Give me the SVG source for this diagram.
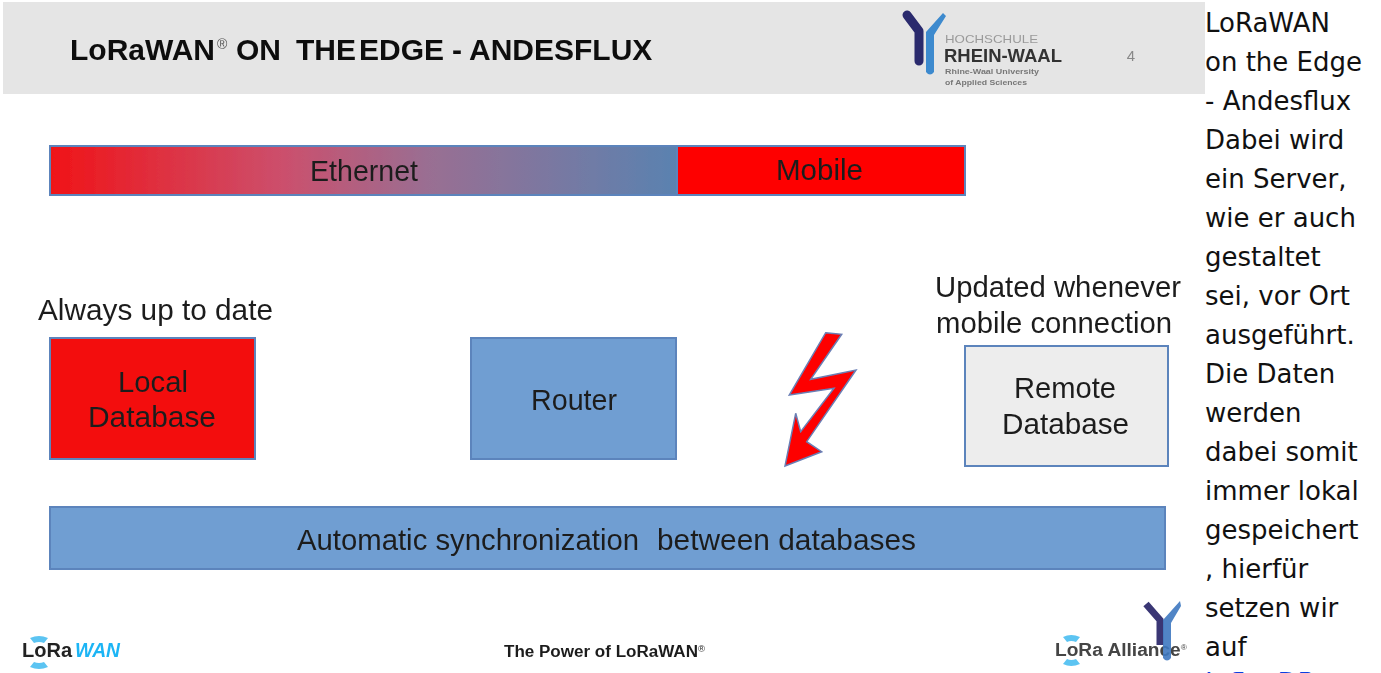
<svg xmlns="http://www.w3.org/2000/svg" width="1381" height="673" viewBox="0 0 1381 673">
<defs>
<linearGradient id="g" x1="0" x2="1" y1="0" y2="0"><stop offset="0" stop-color="#f01418"/><stop offset="0.37" stop-color="#cc4f6c"/><stop offset="0.6" stop-color="#9a6e92"/><stop offset="1" stop-color="#5a82b0"/></linearGradient>
<filter id="b" x="-5%" y="-5%" width="110%" height="110%"><feGaussianBlur stdDeviation="0.75"/></filter>
</defs>
<style>
.s{font-family:"Liberation Sans",Arial,sans-serif;fill:#1f1f1f}
.f{font-size:30px;letter-spacing:0}
.h{font-size:30px;font-weight:700;fill:#111}
.r{font-family:"DejaVu Sans",sans-serif;font-size:26px;fill:#111}
.box{stroke:#5b84bc;stroke-width:2}
.arc{fill:#5cc4f2}
</style>
<rect width="1381" height="673" fill="#fff"/>
<g filter="url(#b)">
<rect id="header" x="3" y="2" width="1202" height="92" fill="#e5e5e5"/>
<text class="s h" y="60"><tspan x="70">LoRaWAN</tspan><tspan x="217" y="49" font-size="14" font-weight="400" fill="#555">®</tspan><tspan x="236" y="60">ON</tspan><tspan x="296">THE</tspan><tspan x="359">EDGE</tspan><tspan x="452">-</tspan><tspan x="469">ANDESFLUX</tspan></text>
<g id="hsrw-logo">
<path d="M907 15 L919 31 L919 61" fill="none" stroke="#2b2a6d" stroke-width="9" stroke-linecap="round" stroke-linejoin="round"/>
<path d="M943 13 L946 16 L934 35 L934 72 Q930 77 926 72 L926 32 Z" fill="#3d8ace"/>
<text class="s" x="945" y="43" font-size="11" fill="#999" textLength="93" lengthAdjust="spacingAndGlyphs" style="fill:#9a9a9a">HOCHSCHULE</text>
<text class="s" x="944" y="62" font-size="18" font-weight="700" textLength="118" lengthAdjust="spacingAndGlyphs" style="fill:#333">RHEIN-WAAL</text>
<text class="s" x="945" y="74" font-size="7.5" font-weight="700" textLength="94" lengthAdjust="spacingAndGlyphs" style="fill:#777">Rhine-Waal University</text>
<text class="s" x="945" y="85" font-size="7.5" font-weight="700" textLength="82" lengthAdjust="spacingAndGlyphs" style="fill:#777">of Applied Sciences</text>
</g>
<text class="s" x="1131" y="61" font-size="15" text-anchor="middle" style="fill:#888">4</text>
<g id="ethernet"><rect class="box" x="50" y="146" width="627" height="49" fill="url(#g)"/><text class="s f" x="310" y="181" textLength="108" lengthAdjust="spacingAndGlyphs">Ethernet</text></g>
<g id="mobile"><rect class="box" x="677" y="146" width="288" height="49" fill="#fe0000"/><text class="s f" x="776" y="180" textLength="87" lengthAdjust="spacingAndGlyphs">Mobile</text></g>
<text class="s f" x="38" y="320" textLength="235" lengthAdjust="spacingAndGlyphs">Always up to date</text>
<text class="s f" x="935" y="297" textLength="246" lengthAdjust="spacingAndGlyphs">Updated whenever</text>
<text class="s f" x="936" y="333" textLength="236" lengthAdjust="spacingAndGlyphs">mobile connection</text>
<g id="local-db"><rect class="box" x="50" y="338" width="205" height="121" fill="#f3100e"/><text class="s f" x="118" y="392" textLength="70" lengthAdjust="spacingAndGlyphs">Local</text><text class="s f" x="88" y="427" textLength="128" lengthAdjust="spacingAndGlyphs">Database</text></g>
<g id="router"><rect class="box" x="471" y="338" width="205" height="121" fill="#709ed2"/><text class="s f" x="531" y="410" textLength="86" lengthAdjust="spacingAndGlyphs">Router</text></g>
<g id="remote-db"><rect class="box" x="965" y="346" width="203" height="120" fill="#ededed"/><text class="s f" x="1014" y="398" textLength="102" lengthAdjust="spacingAndGlyphs">Remote</text><text class="s f" x="1002" y="434" textLength="127" lengthAdjust="spacingAndGlyphs">Database</text></g>
<path id="bolt" d="M825.7 332.7 L841.7 334.3 L810.7 379.3 L856 370 L806.7 441.7 L821.7 451.7 L785 466 L795.7 413.3 L800.7 431.7 L834 388.3 L789.3 395 Z" fill="#fe0000" stroke="#6a7fb5" stroke-width="1.5"/>
<g id="sync"><rect class="box" x="50" y="507" width="1115" height="62" fill="#709ed2"/><text class="s f" x="297" y="550" textLength="342" lengthAdjust="spacingAndGlyphs">Automatic synchronization</text><text class="s f" x="657" y="550" textLength="259" lengthAdjust="spacingAndGlyphs">between databases</text></g>
<g id="lorawan-logo">
<path class="arc" d="M30 638 Q39 634 48 638 L44 643 Q39 641 34 643 Z M30 667 Q39 671 48 667 L44 662 Q39 664 34 662 Z"/>
<text x="22" y="657" font-family="Liberation Sans" font-size="20" font-weight="700" fill="#222" textLength="50" lengthAdjust="spacingAndGlyphs">LoRa</text>
<text x="75" y="657" font-family="Liberation Sans" font-size="20" font-weight="700" font-style="italic" fill="#1fb5f5" textLength="45" lengthAdjust="spacingAndGlyphs">WAN</text>
</g>
<text class="s" x="504" y="657" font-size="16" font-weight="700" textLength="201" lengthAdjust="spacingAndGlyphs">The Power of LoRaWAN<tspan font-size="9" dy="-5" font-weight="400">®</tspan></text>
<g id="alliance-logo">
<path class="arc" d="M1063 637 Q1071 633 1080 637 L1076 642 Q1071 640 1067 642 Z M1063 664 Q1071 668 1080 664 L1076 659 Q1071 661 1067 659 Z"/>
<text x="1055" y="656" font-family="Liberation Sans" font-size="18" font-weight="700" fill="#444" textLength="132" lengthAdjust="spacingAndGlyphs">LoRa Alliance<tspan font-size="8" dy="-6" font-weight="400">®</tspan></text>
<path d="M1146 604 L1160 620 L1160 645" fill="none" stroke="#2e2b6e" stroke-width="7" opacity="0.95"/>
<path d="M1180 601 L1181 606 L1171 623 L1171 658 Q1167 663 1163 658 L1163 620 Z" fill="#3d78c0" opacity="0.9"/>
</g>
</g>
<g id="article">
<text class="r" x="1205" y="32">LoRaWAN</text>
<text class="r" x="1205" y="71">on the Edge</text>
<text class="r" x="1205" y="110">- Andesflux</text>
<text class="r" x="1205" y="149">Dabei wird</text>
<text class="r" x="1205" y="188">ein Server,</text>
<text class="r" x="1205" y="227">wie er auch</text>
<text class="r" x="1205" y="266">gestaltet</text>
<text class="r" x="1205" y="305">sei, vor Ort</text>
<text class="r" x="1205" y="344">ausgeführt.</text>
<text class="r" x="1205" y="383">Die Daten</text>
<text class="r" x="1205" y="422">werden</text>
<text class="r" x="1205" y="461">dabei somit</text>
<text class="r" x="1205" y="500">immer lokal</text>
<text class="r" x="1205" y="539">gespeichert</text>
<text class="r" x="1205" y="578">, hierfür</text>
<text class="r" x="1205" y="617">setzen wir</text>
<text class="r" x="1205" y="656">auf</text>
<text class="r" x="1205" y="692" style="fill:#0b3fe0">InfluxDB</text>
</g>
</svg>
